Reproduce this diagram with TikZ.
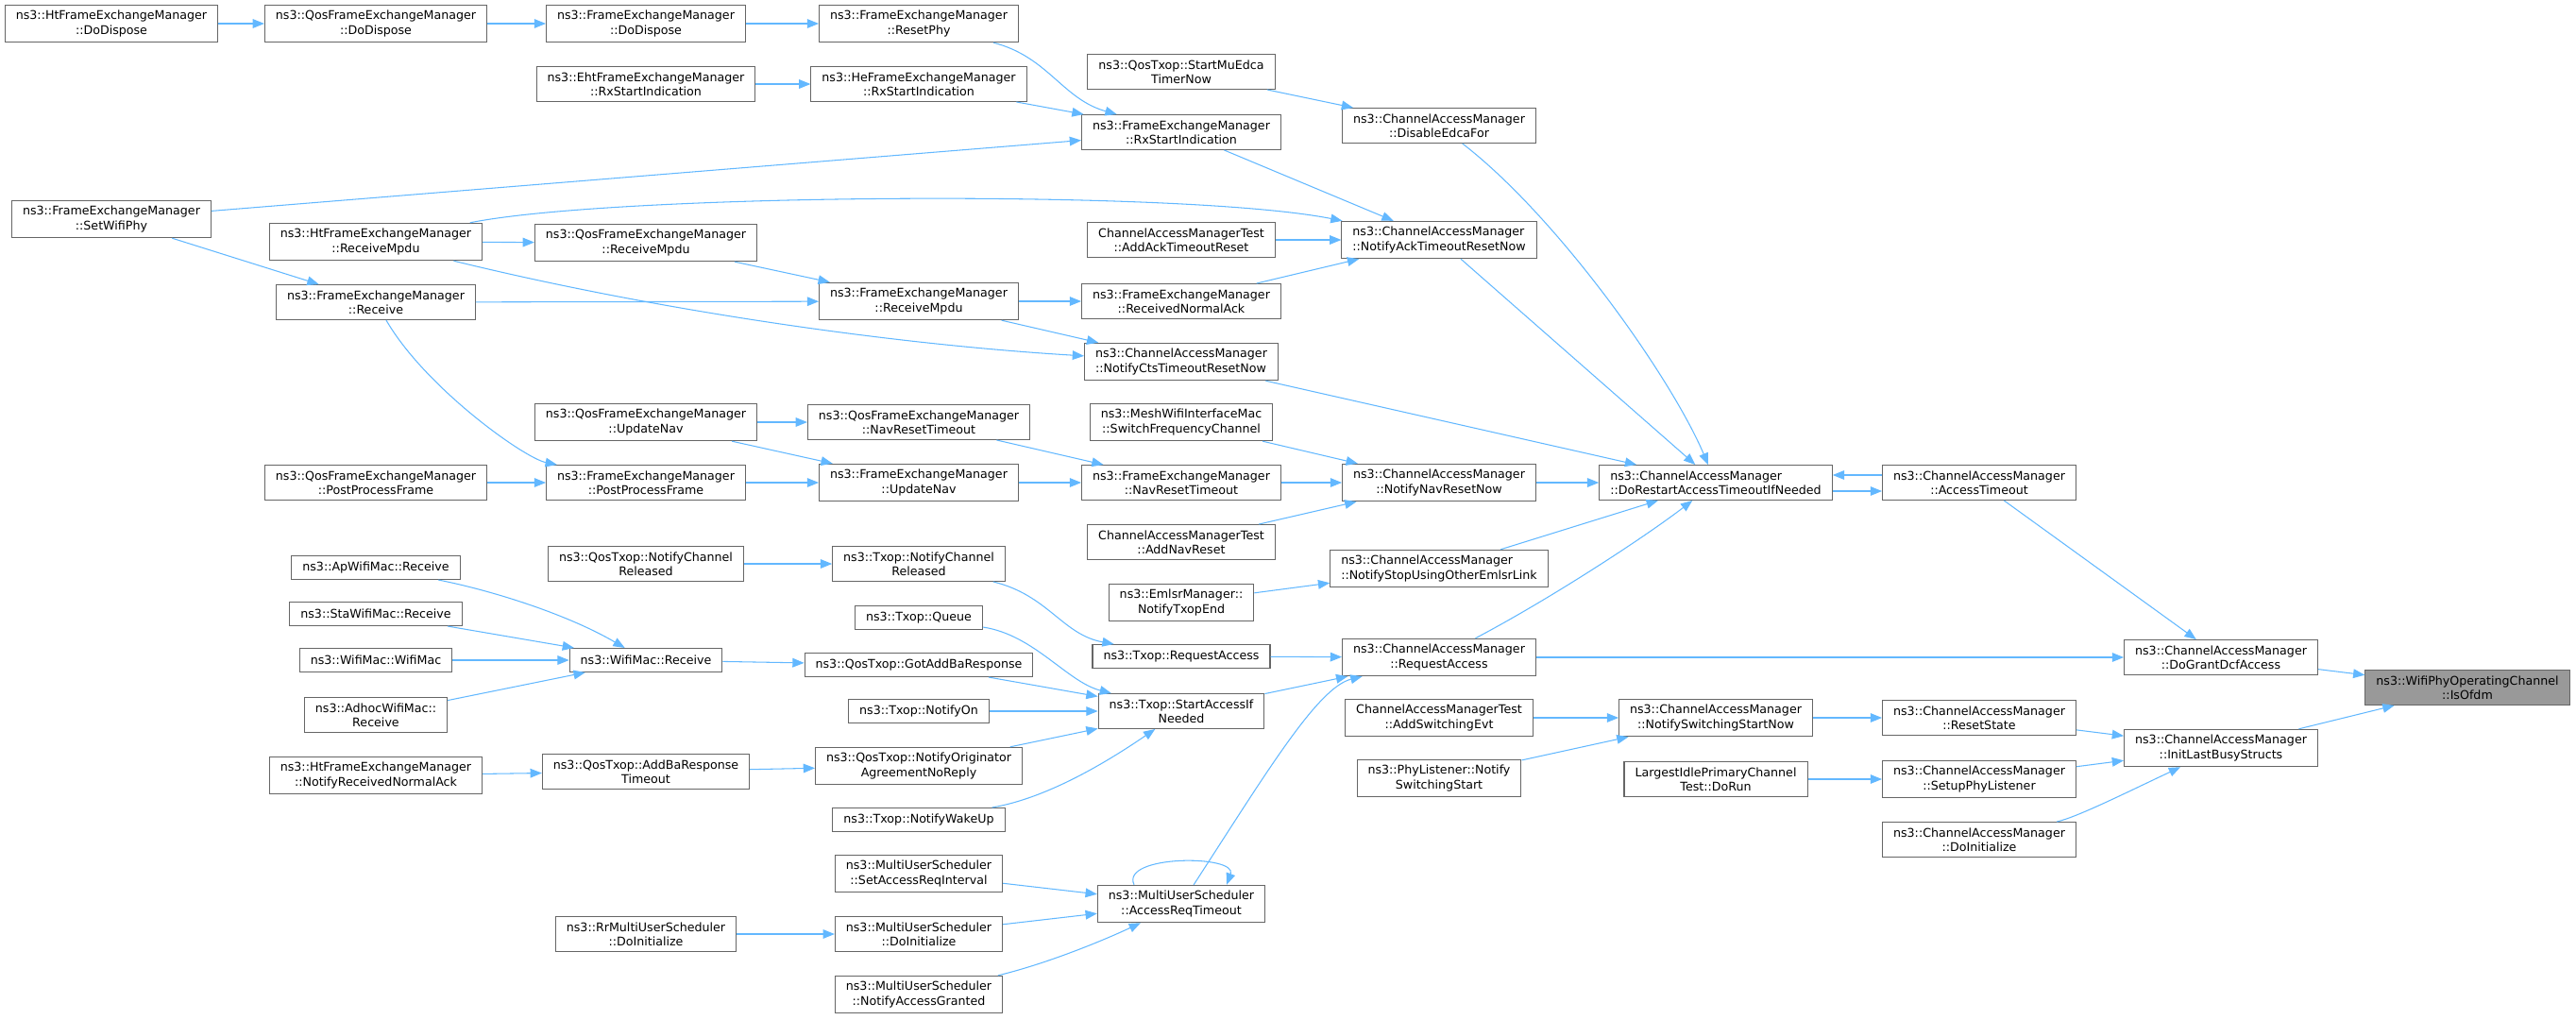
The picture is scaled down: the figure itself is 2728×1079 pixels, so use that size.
\documentclass[tikz,border=0pt]{standalone}
\usepackage{fontspec}
\setmainfont{DejaVu Sans}
\usetikzlibrary{arrows.meta,calc}
\definecolor{edgeblue}{HTML}{63B8FF}
\definecolor{boxgrey}{HTML}{666666}
\definecolor{curgrey}{HTML}{999999}
\begin{document}
\begin{tikzpicture}[x=0.02cm, y=-0.02cm,
  fn/.style={draw=boxgrey, fill=white, line width=0.6pt, align=center, inner xsep=0.23cm, inner ysep=0.12cm, minimum height=0.5cm, font=\fontsize{7.2}{8.6}\selectfont},
  fnl/.style={fn, align=left},
  cur/.style={fn, fill=curgrey},
  call/.style={draw=edgeblue, line width=0.6pt, -{Triangle[length=7pt,width=5.5pt]}}]
\useasboundingbox (0,0) rectangle (2728,1079);

\node[fn] (hdd) at (118,25) {ns3::HtFrameExchangeManager\\::DoDispose};
\node[fn] (qdd) at (398,25) {ns3::QosFrameExchangeManager\\::DoDispose};
\node[fn] (fdd) at (684,25) {ns3::FrameExchangeManager\\::DoDispose};
\node[fn] (rphy) at (973,25) {ns3::FrameExchangeManager\\::ResetPhy};
\node[fn] (erx) at (684,89) {ns3::EhtFrameExchangeManager\\::RxStartIndication};
\node[fn] (herx) at (973,89) {ns3::HeFrameExchangeManager\\::RxStartIndication};
\node[fn] (muedca) at (1251,76) {ns3::QosTxop::StartMuEdca\\TimerNow};
\node[fn] (frx) at (1251,140) {ns3::FrameExchangeManager\\::RxStartIndication};
\node[fn] (edca) at (1524,133) {ns3::ChannelAccessManager\\::DisableEdcaFor};

\node[fn] (swp) at (118,232) {ns3::FrameExchangeManager\\::SetWifiPhy};
\node[fn] (htrm) at (398,256) {ns3::HtFrameExchangeManager\\::ReceiveMpdu};
\node[fn] (qrm) at (684,257) {ns3::QosFrameExchangeManager\\::ReceiveMpdu};
\node[fn] (aackt) at (1251,254) {ChannelAccessManagerTest\\::AddAckTimeoutReset};
\node[fnl] (nack) at (1524,254) {ns3::ChannelAccessManager\\::NotifyAckTimeoutResetNow};
\node[fn] (frcv) at (398,320) {ns3::FrameExchangeManager\\::Receive};
\node[fn] (frm) at (973,319) {ns3::FrameExchangeManager\\::ReceiveMpdu};
\node[fn] (frna) at (1251,319) {ns3::FrameExchangeManager\\::ReceivedNormalAck};
\node[fnl] (ncts) at (1251,383) {ns3::ChannelAccessManager\\::NotifyCtsTimeoutResetNow};

\node[fn] (qun) at (684,447) {ns3::QosFrameExchangeManager\\::UpdateNav};
\node[fn] (qnrt) at (973,447) {ns3::QosFrameExchangeManager\\::NavResetTimeout};
\node[fn] (mesh) at (1251,447) {ns3::MeshWifiInterfaceMac\\::SwitchFrequencyChannel};
\node[fn] (qppf) at (398,511) {ns3::QosFrameExchangeManager\\::PostProcessFrame};
\node[fn] (fppf) at (684,511) {ns3::FrameExchangeManager\\::PostProcessFrame};
\node[fn] (fun) at (973,511) {ns3::FrameExchangeManager\\::UpdateNav};
\node[fn] (fnrt) at (1251,511) {ns3::FrameExchangeManager\\::NavResetTimeout};
\node[fn] (nnav) at (1524,511) {ns3::ChannelAccessManager\\::NotifyNavResetNow};
\node[fnl] (drat) at (1817,511) {ns3::ChannelAccessManager\\::DoRestartAccessTimeoutIfNeeded};
\node[fn] (acto) at (2096,511) {ns3::ChannelAccessManager\\::AccessTimeout};
\node[fn] (anav) at (1251,574) {ChannelAccessManagerTest\\::AddNavReset};

\node[fn] (qncr) at (684,597) {ns3::QosTxop::NotifyChannel\\Released};
\node[fn] (tncr) at (973,597) {ns3::Txop::NotifyChannel\\Released};
\node[fnl] (nstop) at (1524,602) {ns3::ChannelAccessManager\\::NotifyStopUsingOtherEmlsrLink};
\node[fn] (aprcv) at (398,601) {ns3::ApWifiMac::Receive};
\node[fn] (emlsr) at (1251,638) {ns3::EmlsrManager::\\NotifyTxopEnd};
\node[fn] (starcv) at (398,650) {ns3::StaWifiMac::Receive};
\node[fn] (tq) at (973,654) {ns3::Txop::Queue};
\node[fn] (trq) at (1251,695) {ns3::Txop::RequestAccess};
\node[fn] (cra) at (1524,696) {ns3::ChannelAccessManager\\::RequestAccess};
\node[fn] (dgda) at (2352,696) {ns3::ChannelAccessManager\\::DoGrantDcfAccess};
\node[fn] (wmwm) at (398,699) {ns3::WifiMac::WifiMac};
\node[fn] (wmrcv) at (684,699) {ns3::WifiMac::Receive};
\node[fn] (gabr) at (973,704) {ns3::QosTxop::GotAddBaResponse};
\node[cur] (ofdm) at (2613,728) {ns3::WifiPhyOperatingChannel\\::IsOfdm};

\node[fn] (adhoc) at (398,757) {ns3::AdhocWifiMac::\\Receive};
\node[fn] (ton) at (973,753) {ns3::Txop::NotifyOn};
\node[fn] (tsai) at (1251,753) {ns3::Txop::StartAccessIf\\Needed};
\node[fn] (aswe) at (1524,760) {ChannelAccessManagerTest\\::AddSwitchingEvt};
\node[fn] (nssn) at (1817,760) {ns3::ChannelAccessManager\\::NotifySwitchingStartNow};
\node[fn] (rst) at (2096,760) {ns3::ChannelAccessManager\\::ResetState};
\node[fn] (ilbs) at (2352,792) {ns3::ChannelAccessManager\\::InitLastBusyStructs};
\node[fn] (htnrna) at (398,821) {ns3::HtFrameExchangeManager\\::NotifyReceivedNormalAck};
\node[fn] (abrt) at (684,817) {ns3::QosTxop::AddBaResponse\\Timeout};
\node[fn] (noanr) at (973,811) {ns3::QosTxop::NotifyOriginator\\AgreementNoReply};
\node[fn] (phyl) at (1524,824) {ns3::PhyListener::Notify\\SwitchingStart};
\node[fn] (lipc) at (1817,825) {LargestIdlePrimaryChannel\\Test::DoRun};
\node[fn] (spl) at (2096,825) {ns3::ChannelAccessManager\\::SetupPhyListener};
\node[fn] (twu) at (973,868) {ns3::Txop::NotifyWakeUp};
\node[fn] (cadi) at (2096,889) {ns3::ChannelAccessManager\\::DoInitialize};

\node[fn] (sari) at (973,925) {ns3::MultiUserScheduler\\::SetAccessReqInterval};
\node[fn] (art) at (1251,957) {ns3::MultiUserScheduler\\::AccessReqTimeout};
\node[fn] (rrdi) at (684,989) {ns3::RrMultiUserScheduler\\::DoInitialize};
\node[fn] (musdi) at (973,989) {ns3::MultiUserScheduler\\::DoInitialize};
\node[fn] (mnag) at (973,1053) {ns3::MultiUserScheduler\\::NotifyAccessGranted};

\draw[call] (hdd) -- (qdd);
\draw[call] (qdd) -- (fdd);
\draw[call] (fdd) -- (rphy);
\draw[call] (rphy) .. controls (1110,60) and (1125,105) .. (frx);
\draw[call] (erx) -- (herx);
\draw[call] (herx) -- (frx);
\draw[call] (swp) -- (frx);
\draw[call] (swp) -- (frcv);
\draw[call] (frx) -- (nack);
\draw[call] (muedca) -- (edca);
\draw[call] (edca) .. controls (1650,230) and (1770,400) .. (drat);

\draw[call] (htrm) .. controls (650,205) and (1250,200) .. (nack);
\draw[call] (htrm) -- (qrm);
\draw[call] (htrm) .. controls (700,330) and (950,365) .. (ncts);
\draw[call] (qrm) -- (frm);
\draw[call] (frcv) -- (frm);
\draw[call] (frcv) .. controls (450,410) and (555,485) .. (fppf);
\draw[call] (aackt) -- (nack);
\draw[call] (frna) -- (nack);
\draw[call] (frm) -- (frna);
\draw[call] (frm) -- (ncts);
\draw[call] (nack) -- (drat);
\draw[call] (ncts) -- (drat);

\draw[call] (qun) -- (qnrt);
\draw[call] (qun) -- (fun);
\draw[call] (qnrt) -- (fnrt);
\draw[call] (qppf) -- (fppf);
\draw[call] (fppf) -- (fun);
\draw[call] (fun) -- (fnrt);
\draw[call] (mesh) -- (nnav);
\draw[call] (fnrt) -- (nnav);
\draw[call] (anav) -- (nnav);
\draw[call] (nnav) -- (drat);
\draw[call] (nstop) -- (drat);
\draw[call] (emlsr) -- (nstop);
\draw[call] (cra) .. controls (1640,635) and (1740,570) .. (drat);
\draw[call] ($(drat.east)+(0,9)$) -- ($(acto.west)+(0,9)$);
\draw[call] ($(acto.west)+(0,-8)$) -- ($(drat.east)+(0,-8)$);
\draw[call] (acto) -- (dgda);
\draw[call] (cra) -- (dgda);
\draw[call] (dgda) -- (ofdm);
\draw[call] (ilbs) -- (ofdm);

\draw[call] (qncr) -- (tncr);
\draw[call] (tncr) .. controls (1110,630) and (1125,672) .. (trq);
\draw[call] (trq) -- (cra);
\draw[call] (tq) .. controls (1095,672) and (1130,722) .. (tsai);
\draw[call] (aprcv) .. controls (520,625) and (600,650) .. (wmrcv);
\draw[call] (starcv) -- (wmrcv);
\draw[call] (wmwm) -- (wmrcv);
\draw[call] (adhoc) -- (wmrcv);
\draw[call] (wmrcv) -- (gabr);
\draw[call] (gabr) -- (tsai);
\draw[call] (ton) -- (tsai);
\draw[call] (noanr) -- (tsai);
\draw[call] (twu) .. controls (1110,845) and (1175,805) .. (tsai);
\draw[call] (htnrna) -- (abrt);
\draw[call] (abrt) -- (noanr);
\draw[call] (tsai) -- (cra);
\draw[call] (art) .. controls (1340,820) and (1395,728) .. (cra);
\draw[call] ($(art.north)+(-50,0)$) .. controls ($(art.north)+(-65,-32)$) and ($(art.north)+(60,-32)$) .. ($(art.north)+(48,0)$);
\draw[call] (sari) -- (art);
\draw[call] (rrdi) -- (musdi);
\draw[call] (musdi) -- (art);
\draw[call] (mnag) .. controls (1110,1020) and (1170,995) .. (art);

\draw[call] (aswe) -- (nssn);
\draw[call] (phyl) -- (nssn);
\draw[call] (nssn) -- (rst);
\draw[call] (rst) -- (ilbs);
\draw[call] (lipc) -- (spl);
\draw[call] (spl) -- (ilbs);
\draw[call] (cadi) .. controls (2200,865) and (2250,840) .. (ilbs);
\end{tikzpicture}
\end{document}
